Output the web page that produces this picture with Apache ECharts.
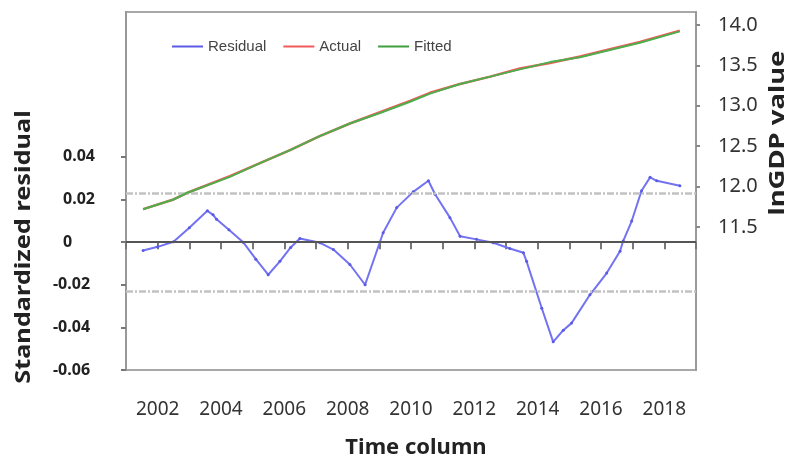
<!DOCTYPE html>
<html>
<head>
<meta charset="utf-8">
<script src="https://cdn.jsdelivr.net/npm/echarts@6/dist/echarts.min.js"></script>
<style>
  html, body { margin: 0; padding: 0; background: #fff; }
  #chart { width: 792px; height: 462px; }
</style>
</head>
<body>
<div id="chart"></div>
<script>
// Time axis (decimal years) and tick labels
const yearLabels = [2002, 2004, 2006, 2008, 2010, 2012, 2014, 2016, 2018];
const residualTicks = [-0.06, -0.04, -0.02, 0, 0.02, 0.04];
const gdpTicks = [11.5, 12.0, 12.5, 13.0, 13.5, 14.0];

// Standardized residual: [year, value]
const residualData = [
  [2001.54, -0.0039], [2002.0, -0.0022], [2002.5, 0.0002], [2003.0, 0.0068],
  [2003.57, 0.0147], [2003.75, 0.0128], [2003.86, 0.0107], [2004.25, 0.0058],
  [2004.7, 0.0000], [2005.1, -0.0080], [2005.49, -0.0153], [2005.86, -0.0090],
  [2006.2, -0.0025], [2006.49, 0.0017], [2007.13, -0.0003], [2007.55, -0.0035],
  [2008.07, -0.0105], [2008.55, -0.0200], [2009.12, 0.0044], [2009.55, 0.0162],
  [2010.07, 0.0236], [2010.55, 0.0288], [2010.76, 0.0225], [2011.23, 0.0115],
  [2011.55, 0.0028], [2012.07, 0.0013], [2012.6, -0.0003], [2013.12, -0.0030],
  [2013.55, -0.0050], [2013.65, -0.0090], [2014.13, -0.0310], [2014.49, -0.0468],
  [2014.81, -0.0413], [2015.07, -0.0380], [2015.65, -0.0247], [2016.18, -0.0145],
  [2016.6, -0.0043], [2016.7, 0.0005], [2016.97, 0.0099], [2017.28, 0.0241],
  [2017.55, 0.0304], [2017.76, 0.0288], [2018.49, 0.0265]
];

// lnGDP, observed: [year, value]
const actualData = [
  [2001.54, 11.72], [2002.5, 11.84], [2002.92, 11.92], [2004.28, 12.13],
  [2005.23, 12.29], [2006.18, 12.45], [2007.1, 12.62], [2008.07, 12.78],
  [2009.02, 12.92], [2009.97, 13.06], [2010.6, 13.16], [2011.55, 13.27],
  [2012.5, 13.36], [2013.44, 13.46], [2014.39, 13.53], [2015.34, 13.61],
  [2016.28, 13.70], [2017.23, 13.79], [2018.49, 13.93]
];

// lnGDP, model fit: [year, value]
const fittedData = [
  [2001.54, 11.72], [2002.5, 11.84], [2002.92, 11.92], [2004.28, 12.12],
  [2005.23, 12.29], [2006.18, 12.45], [2007.1, 12.62], [2008.07, 12.78],
  [2009.02, 12.91], [2009.97, 13.05], [2010.6, 13.15], [2011.55, 13.27],
  [2012.5, 13.36], [2013.44, 13.45], [2014.39, 13.54], [2015.34, 13.60],
  [2016.28, 13.69], [2017.23, 13.78], [2018.49, 13.92]
];

// Band around zero for the residual
const bandLimit = 0.023;

const chart = echarts.init(document.getElementById('chart'), null, { renderer: 'canvas' });

const titleFont = '"Noto Sans", "Open Sans", sans-serif';

chart.setOption({
  animation: false,
  backgroundColor: '#ffffff',
  grid: {
    left: 126, right: 96, top: 12, bottom: 92,
    show: true, borderColor: '#a8a8a8', borderWidth: 2,
    containLabel: false
  },
  legend: {
    left: 167, top: 34,
    icon: 'rect', itemWidth: 31, itemHeight: 2, itemGap: 17,
    textStyle: { fontFamily: '"Liberation Sans", Arial, sans-serif', fontSize: 15, color: '#444' },
    data: ['Residual', 'Actual', 'Fitted']
  },
  xAxis: {
    type: 'value', min: 2001, max: 2019, interval: 1,
    axisLine: { show: true, lineStyle: { color: '#888', width: 1.5 } },
    axisTick: { show: true, inside: false, length: 7, lineStyle: { color: '#777', width: 2 } },
    splitLine: { show: false },
    axisLabel: {
      margin: 30,
      fontFamily: titleFont, fontSize: 19, color: '#333',
      customValues: yearLabels,
      formatter: v => String(v)
    }
  },
  yAxis: [
    {
      type: 'value', position: 'left', min: -0.06, max: 0.108,
      axisLine: { show: true, lineStyle: { color: '#999', width: 2 } },
      axisTick: { show: true, length: 5, customValues: residualTicks, lineStyle: { color: '#777', width: 2 } },
      splitLine: { show: false },
      axisLabel: {
        customValues: residualTicks,
        align: 'left', margin: 73,
        fontFamily: titleFont, fontWeight: 'bold', fontSize: 16, color: '#222',
        formatter: v => {
          const s = v === 0 ? '0' : v.toFixed(2);
          return v < 0 ? s : '{p|' + s + '}';
        },
        rich: { p: { padding: [0, 0, 0, 10], fontFamily: titleFont, fontWeight: 'bold', fontSize: 16, color: '#222' } }
      }
    },
    {
      type: 'value', position: 'right', min: 9.73, max: 14.16,
      axisLine: { show: true, lineStyle: { color: '#999', width: 2 } },
      axisTick: { show: true, length: 4, customValues: gdpTicks, lineStyle: { color: '#888', width: 2 } },
      splitLine: { show: false },
      axisLabel: {
        customValues: gdpTicks,
        margin: 22,
        fontFamily: titleFont, fontSize: 20, color: '#333',
        formatter: v => v.toFixed(1)
      }
    }
  ],
  series: [
    {
      name: 'Residual', type: 'line', yAxisIndex: 0,
      data: residualData,
      showSymbol: true, symbol: 'circle', symbolSize: 3,
      itemStyle: { color: '#5a5ae6' },
      lineStyle: { color: '#7373f2', width: 2 },
      z: 3,
      markLine: {
        silent: true, symbol: 'none', label: { show: false }, precision: 4,
        data: [
          { yAxis: 0, lineStyle: { color: '#555', type: 'solid', width: 2 } },
          { yAxis: bandLimit, lineStyle: { color: '#c2c2c2', type: [7, 2, 2, 2], width: 2.5 } },
          { yAxis: -bandLimit, lineStyle: { color: '#c2c2c2', type: [7, 2, 2, 2], width: 2.5 } }
        ]
      }
    },
    {
      name: 'Actual', type: 'line', yAxisIndex: 1,
      data: actualData,
      showSymbol: false,
      itemStyle: { color: '#f05a5a' },
      lineStyle: { color: '#f05a5a', width: 2.5 },
      z: 4
    },
    {
      name: 'Fitted', type: 'line', yAxisIndex: 1,
      data: fittedData,
      showSymbol: false,
      itemStyle: { color: '#3f9f3f' },
      lineStyle: { color: '#4caf4c', width: 2 },
      z: 5
    }
  ],
  graphic: [
    {
      type: 'text', x: 24, y: 247, rotation: Math.PI / 2, scaleX: 1.15,
      style: { text: 'Standardized residual', fill: '#222', font: 'bold 22px ' + titleFont, textAlign: 'center', textVerticalAlign: 'middle' }
    },
    {
      type: 'text', x: 778, y: 133, rotation: Math.PI / 2, scaleX: 1.25,
      style: { text: 'lnGDP value', fill: '#222', font: 'bold 22px ' + titleFont, textAlign: 'center', textVerticalAlign: 'middle' }
    },
    {
      type: 'text', x: 416, y: 448,
      style: { text: 'Time column', fill: '#222', font: 'bold 22px ' + titleFont, textAlign: 'center', textVerticalAlign: 'middle' }
    }
  ]
});
</script>
</body>
</html>
